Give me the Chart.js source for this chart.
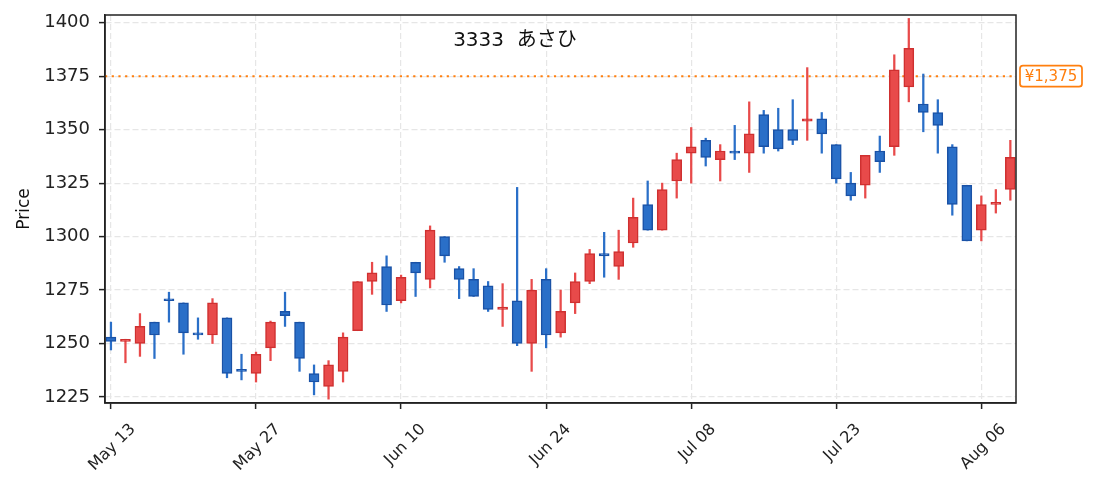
<!DOCTYPE html>
<html>
<head>
<meta charset="utf-8">
<script src="https://cdn.jsdelivr.net/npm/chart.js@4.4.1/dist/chart.umd.min.js"></script>
<style>
  html, body { margin: 0; padding: 0; background: #fff; }
  #wrap { width: 1095px; height: 493px; }
</style>
</head>
<body>
<div id="wrap"><canvas id="stockChart"></canvas></div>
<script>
// trading days, 2024
const dates = [
  "May 13", "May 14", "May 15", "May 16", "May 17",
  "May 20", "May 21", "May 22", "May 23", "May 24",
  "May 27", "May 28", "May 29", "May 30", "May 31",
  "Jun 03", "Jun 04", "Jun 05", "Jun 06", "Jun 07",
  "Jun 10", "Jun 11", "Jun 12", "Jun 13", "Jun 14",
  "Jun 17", "Jun 18", "Jun 19", "Jun 20", "Jun 21",
  "Jun 24", "Jun 25", "Jun 26", "Jun 27", "Jun 28",
  "Jul 01", "Jul 02", "Jul 03", "Jul 04", "Jul 05",
  "Jul 08", "Jul 09", "Jul 10", "Jul 11", "Jul 12",
  "Jul 16", "Jul 17", "Jul 18", "Jul 19",
  "Jul 22", "Jul 23", "Jul 24", "Jul 25", "Jul 26",
  "Jul 29", "Jul 30", "Jul 31", "Aug 01", "Aug 02",
  "Aug 05", "Aug 06", "Aug 07", "Aug 08"
];

const opens = [
  1253, 1251, 1250, 1260, 1270, 1269, 1255, 1254, 1262, 1237,
  1236, 1248, 1265, 1260, 1236, 1230, 1237, 1256, 1279, 1286,
  1270, 1288, 1280, 1300, 1285, 1280, 1277, 1266, 1270, 1250,
  1280, 1255, 1269, 1279, 1292, 1286, 1297, 1315, 1303, 1326,
  1339, 1345, 1336, 1340, 1339, 1357, 1350, 1350, 1354, 1355,
  1343, 1325, 1324, 1340, 1342, 1370, 1362, 1358, 1342, 1324,
  1303, 1315, 1322
];
const highs = [
  1260, 1252, 1264, 1260, 1274, 1269, 1262, 1271, 1262, 1245,
  1246, 1260.5, 1274, 1260, 1240, 1242, 1255, 1279, 1288, 1291,
  1282, 1288, 1305, 1300, 1286, 1285, 1279, 1278, 1323, 1280,
  1285, 1275, 1283, 1294, 1302, 1303, 1318, 1326, 1325, 1339,
  1351, 1346, 1343, 1352, 1363, 1359, 1360, 1364, 1379, 1358,
  1343, 1330, 1338, 1347, 1385, 1402, 1376, 1364, 1343, 1324,
  1319, 1322, 1345
];
const lows = [
  1247, 1241, 1244, 1243, 1260, 1245, 1252, 1250, 1234, 1233,
  1232, 1242, 1258, 1237, 1226, 1224, 1232, 1256, 1273, 1265,
  1269, 1272, 1276, 1288, 1271, 1272, 1265, 1258, 1249, 1237,
  1248, 1253, 1264, 1278, 1281, 1280, 1295, 1303, 1303, 1318,
  1325, 1333, 1326, 1336, 1330, 1339, 1340, 1343, 1345, 1339,
  1325, 1317, 1318, 1330, 1338, 1363, 1349, 1339, 1310, 1298,
  1298, 1311, 1317
];
const closes = [
  1251, 1252, 1258, 1254, 1270, 1255, 1254, 1269, 1236, 1237,
  1245, 1260, 1263, 1243, 1232, 1240, 1253, 1279, 1283, 1268,
  1281, 1283, 1303, 1291, 1280, 1272, 1266, 1267, 1250, 1275,
  1254, 1265, 1279, 1292, 1291, 1293, 1309, 1303, 1322, 1336,
  1342, 1337, 1340, 1339, 1348, 1342, 1341, 1345, 1355, 1348,
  1327, 1319, 1338, 1335, 1378, 1388, 1358, 1352, 1315, 1298,
  1315, 1316, 1337
];

const yTicks = [1225, 1250, 1275, 1300, 1325, 1350, 1375, 1400];
const xTickIdx = [0, 10, 20, 30, 40, 50, 60];
const refPrice = 1375;
const title = "3333  あさひ";

const FONT = "'DejaVu Sans', 'Noto Sans CJK JP', sans-serif";
const isUp = (i) => closes[i] > opens[i];

const upFill = "#e84a4a", upEdge = "#cf3030";
const dnFill = "#2a6fc8", dnEdge = "#1a52a6";
const orange = "#ff7f0e";

const wickData = dates.map((d, i) => ({ x: i, y: [lows[i], highs[i]] }));
const bodyData = dates.map((d, i) => ({ x: i, y: [opens[i], closes[i]] }));

const decorPlugin = {
  id: "decor",
  beforeDraw(chart) {
    const ctx = chart.ctx;
    ctx.save();
    ctx.fillStyle = "#fff";
    ctx.fillRect(0, 0, chart.width, chart.height);
    ctx.restore();
  },
  beforeDatasetsDraw(chart) {
    const { ctx, chartArea: a, scales } = chart;
    const y = scales.y.getPixelForValue(refPrice);
    ctx.save();
    ctx.strokeStyle = orange;
    ctx.lineWidth = 2;
    ctx.setLineDash([2.2, 4.5]);
    ctx.beginPath();
    ctx.moveTo(a.left, y);
    ctx.lineTo(a.right, y);
    ctx.stroke();
    ctx.restore();
  },
  afterDatasetsDraw(chart) {
    const { ctx, chartArea: a, scales } = chart;
    ctx.save();
    // frame
    ctx.strokeStyle = "#222";
    ctx.lineWidth = 1.5;
    ctx.strokeRect(a.left, a.top, a.right - a.left, a.bottom - a.top);

    // title inside axes
    ctx.fillStyle = "#111";
    ctx.font = "20px " + FONT;
    ctx.textAlign = "center";
    ctx.textBaseline = "middle";
    ctx.fillText(title, a.left + 0.45 * (a.right - a.left), 41);

    // y label
    ctx.save();
    ctx.translate(25, (a.top + a.bottom) / 2);
    ctx.rotate(-Math.PI / 2);
    ctx.font = "17px " + FONT;
    ctx.fillStyle = "#111";
    ctx.fillText("Price", 0, 0);
    ctx.restore();

    // price tag
    const y = scales.y.getPixelForValue(refPrice);
    const bx = a.right + 4, bw = 62, bh = 21;
    ctx.fillStyle = "#fff";
    ctx.strokeStyle = orange;
    ctx.lineWidth = 1.7;
    ctx.beginPath();
    ctx.roundRect(bx, y - bh / 2, bw, bh, 3);
    ctx.fill();
    ctx.stroke();
    ctx.fillStyle = orange;
    ctx.font = "15px " + FONT;
    ctx.textAlign = "center";
    ctx.fillText("¥1,375", bx + bw / 2, y + 0.5);
    ctx.restore();
  }
};

new Chart(document.getElementById("stockChart"), {
  type: "bar",
  data: {
    datasets: [
      {
        label: "wick",
        data: wickData,
        order: 1,
        grouped: false,
        barThickness: 1.6,
        backgroundColor: (c) => (isUp(c.dataIndex) ? upFill : dnFill),
        borderWidth: 0,
      },
      {
        label: "body",
        data: bodyData,
        order: 0,
        grouped: false,
        barThickness: 10,
        minBarLength: 2,
        backgroundColor: (c) => (isUp(c.dataIndex) ? upFill : dnFill),
        borderColor: (c) => (isUp(c.dataIndex) ? upEdge : dnEdge),
        borderWidth: 1.5,
        borderSkipped: false,
      },
    ],
  },
  options: {
    responsive: true,
    maintainAspectRatio: false,
    animation: false,
    layout: { padding: { top: 15, right: 79, left: 0, bottom: 0 } },
    plugins: {
      legend: { display: false },
      tooltip: { enabled: false },
    },
    scales: {
      x: {
        type: "linear",
        min: -0.41,
        max: 62.39,
        offset: false,
        afterBuildTicks: (s) => { s.ticks = xTickIdx.map((v) => ({ value: v })); },
        afterFit: (s) => {
          s.height = 90;
          s.paddingLeft = 0;
          s.paddingRight = 0;
        },
        ticks: {
          callback: (v) => dates[v],
          autoSkip: false,
          minRotation: 45,
          maxRotation: 45,
          labelOffset: 22,
          padding: 11,
          color: "#222",
          font: { family: FONT, size: 16 },
        },
        grid: {
          offset: false,
          color: "#e6e6e6",
          lineWidth: 1.2,
          tickLength: 6,
          tickColor: "#222",
          tickWidth: 1.5,
        },
        border: { color: "#222", width: 1.5, dash: [6, 3] },
      },
      y: {
        min: 1222.2,
        max: 1403.6,
        afterBuildTicks: (s) => { s.ticks = yTicks.map((v) => ({ value: v })); },
        afterFit: (s) => {
          s.width = 105;
          s.paddingTop = 0;
          s.paddingBottom = 0;
        },
        ticks: {
          callback: (v) => String(v),
          padding: 9,
          color: "#222",
          font: { family: FONT, size: 18 },
        },
        grid: {
          color: "#e6e6e6",
          lineWidth: 1.2,
          tickLength: 6,
          tickColor: "#222",
          tickWidth: 1.5,
        },
        border: { color: "#222", width: 1.5, dash: [6, 3] },
      },
    },
  },
  plugins: [decorPlugin],
});
</script>
</body>
</html>
